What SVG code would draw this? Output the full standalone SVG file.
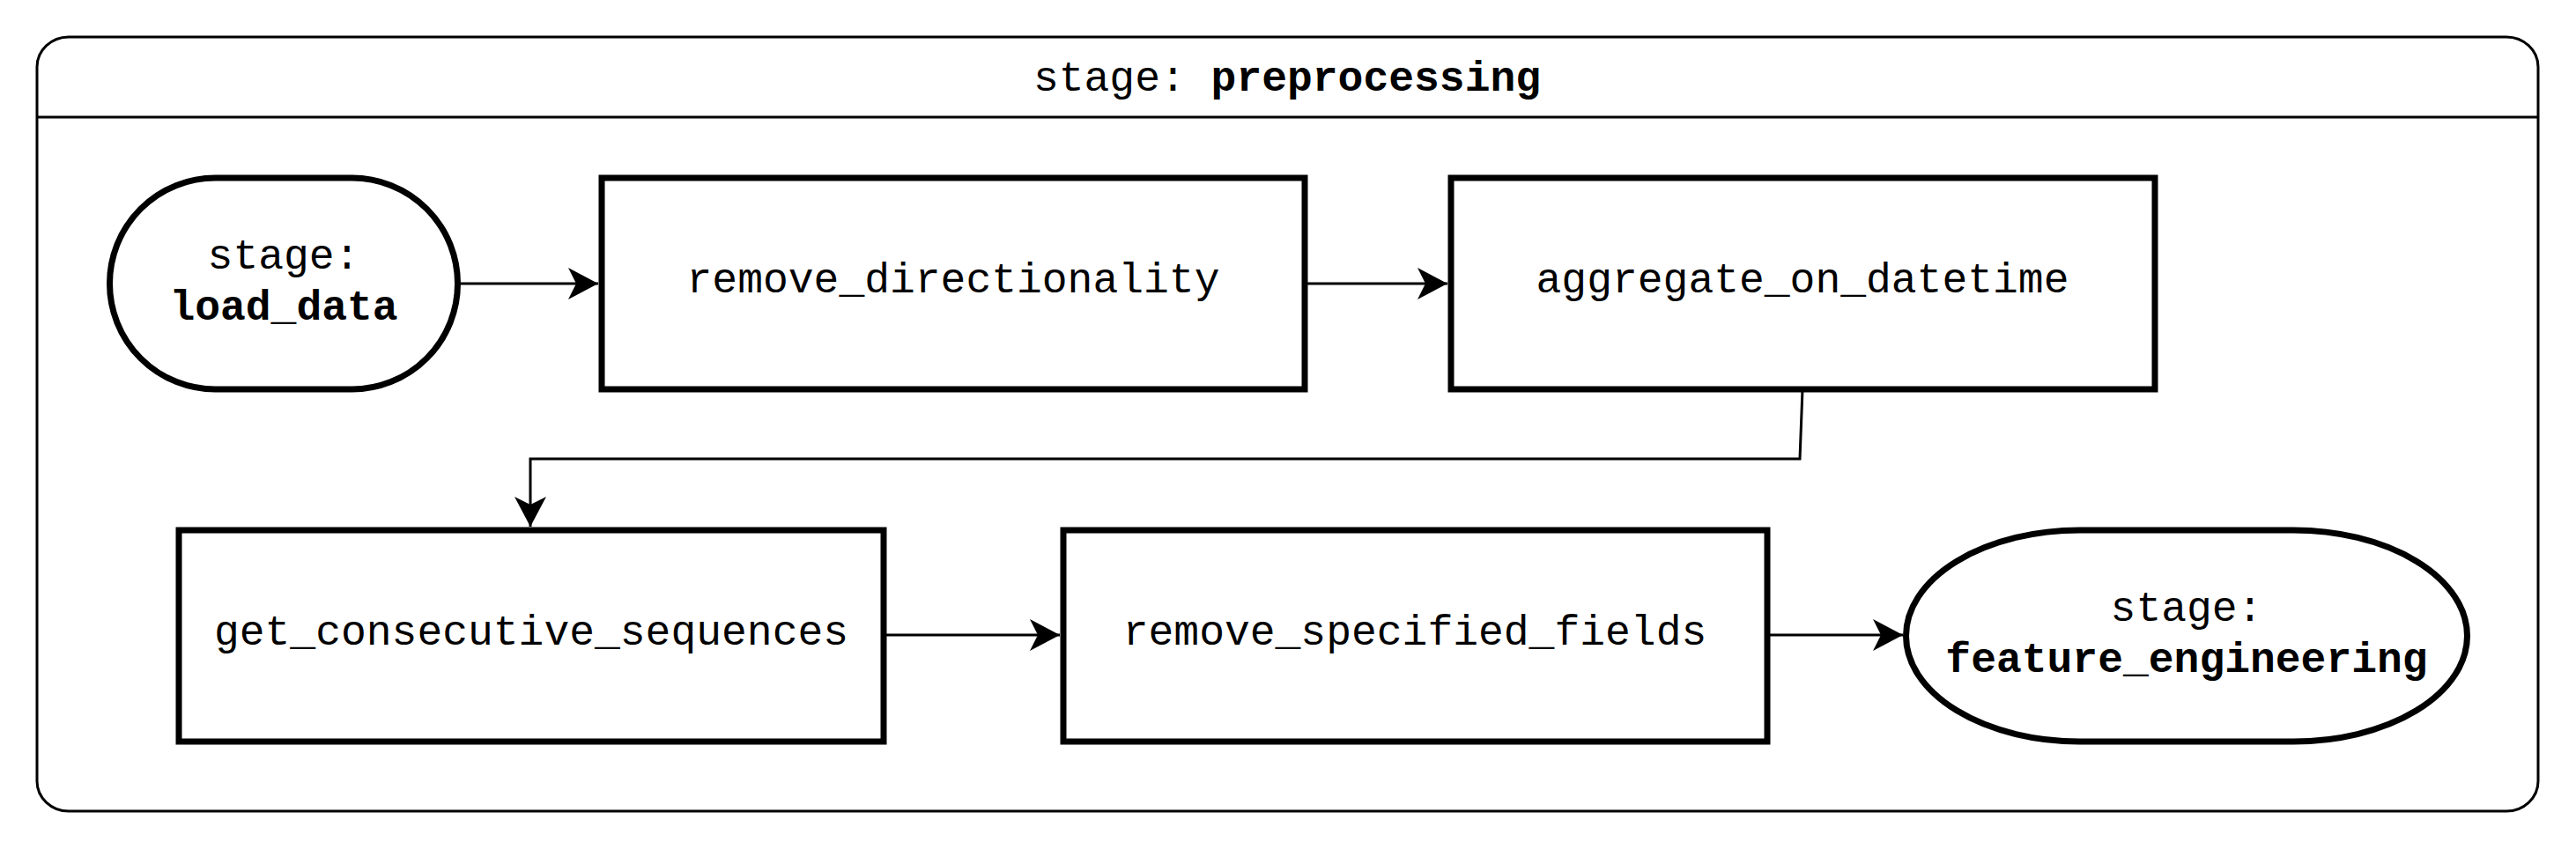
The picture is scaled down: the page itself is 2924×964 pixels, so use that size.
<svg xmlns="http://www.w3.org/2000/svg" width="2924" height="964" viewBox="0 0 2924 964">
<style>
  .bg { fill: #ffffff; }
  .frame { fill: none; stroke: #000; stroke-width: 3; }
  .node { fill: #ffffff; stroke: #000; stroke-width: 7; }
  .edge { fill: none; stroke: #000; stroke-width: 3; }
  .lbl { font-family: "Courier New", "Liberation Mono", monospace; font-size: 48px; fill: #000; text-anchor: middle; }
  .b { font-weight: bold; }
</style>
<defs>
  <marker id="arrow" viewBox="-36 -20 40 40" refX="0" refY="0" markerWidth="40" markerHeight="40" markerUnits="userSpaceOnUse" orient="auto">
    <path d="M0,0 L-34,-18 L-25,0 L-34,18 Z" fill="#000"/>
  </marker>
</defs>
<rect class="bg" x="0" y="0" width="2924" height="964"/>

<g id="stage-preprocessing">
  <rect class="frame" x="42" y="42" width="2839" height="879" rx="36" ry="34"/>
  <line class="frame" x1="42" y1="133" x2="2881" y2="133"/>
  <text class="lbl" x="1461" y="103">stage: <tspan class="b">preprocessing</tspan></text>
</g>

<g id="connectors">
  <line class="edge" x1="523" y1="322" x2="679" y2="322" marker-end="url(#arrow)"/>
  <line class="edge" x1="1481" y1="322" x2="1643" y2="322" marker-end="url(#arrow)"/>
  <polyline class="edge" points="2046,442 2043,521 602,521 602,598" marker-end="url(#arrow)"/>
  <line class="edge" x1="1003" y1="721" x2="1203" y2="721" marker-end="url(#arrow)"/>
  <line class="edge" x1="2006" y1="721" x2="2160" y2="721" marker-end="url(#arrow)"/>
</g>

<g id="load_data">
  <rect class="node" x="124.5" y="202" width="395" height="240" rx="120" ry="120"/>
  <text class="lbl" x="322" y="305">stage:</text>
  <text class="lbl b" x="322" y="363">load_data</text>
</g>

<g id="remove_directionality">
  <rect class="node" x="683" y="202" width="798" height="240"/>
  <text class="lbl" x="1082" y="332">remove_directionality</text>
</g>

<g id="aggregate_on_datetime">
  <rect class="node" x="1647" y="202" width="799" height="240"/>
  <text class="lbl" x="2046" y="332">aggregate_on_datetime</text>
</g>

<g id="get_consecutive_sequences">
  <rect class="node" x="203" y="602" width="800" height="240"/>
  <text class="lbl" x="603" y="732">get_consecutive_sequences</text>
</g>

<g id="remove_specified_fields">
  <rect class="node" x="1207" y="602" width="799" height="240"/>
  <text class="lbl" x="1606" y="732">remove_specified_fields</text>
</g>

<g id="feature_engineering">
  <rect class="node" x="2163.5" y="602" width="637" height="240" rx="197" ry="120"/>
  <text class="lbl" x="2482" y="705">stage:</text>
  <text class="lbl b" x="2482" y="763">feature_engineering</text>
</g>
</svg>
